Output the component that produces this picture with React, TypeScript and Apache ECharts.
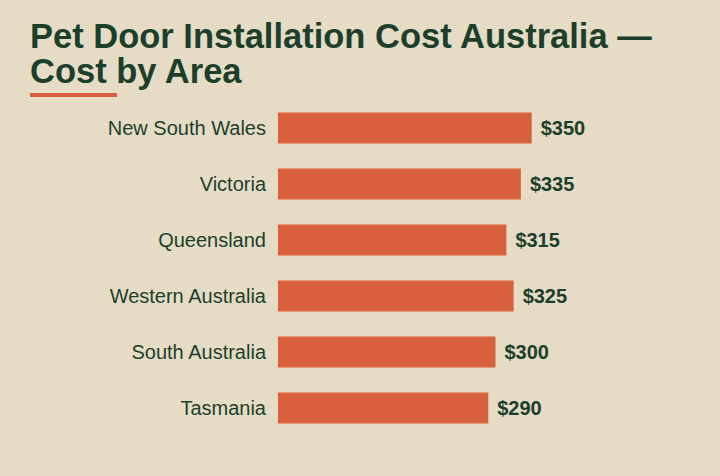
import React, { useEffect, useRef } from 'react';
import * as echarts from 'echarts';

const regions = ['New South Wales', 'Victoria', 'Queensland', 'Western Australia', 'South Australia', 'Tasmania'];
const costs = [350, 335, 315, 325, 300, 290];

const BG = '#e6dcc5';
const INK = '#1c3f2c';
const ORANGE = '#d9603d';
const FONT = 'Liberation Sans, Arial, sans-serif';

export default function App() {
  const chartRef = useRef<HTMLDivElement>(null);

  useEffect(() => {
    if (!chartRef.current) return;
    const chart = echarts.init(chartRef.current, null, { renderer: 'svg' });

    const option: echarts.EChartsOption = {
      animation: false,
      backgroundColor: BG,
      title: {
        text: 'Pet Door Installation Cost Australia —\nCost by Area',
        left: 30,
        top: 19,
        padding: 0,
        textStyle: {
          fontFamily: FONT,
          fontSize: 34.5,
          fontWeight: 'bold',
          color: INK,
          lineHeight: 34.5,
        },
      },
      graphic: [
        {
          type: 'rect',
          left: 30,
          top: 93,
          shape: { width: 87, height: 4 },
          style: { fill: ORANGE },
        },
      ],
      grid: { left: 278, right: 152, top: 100, bottom: 40 },
      xAxis: {
        type: 'value',
        min: 0,
        max: 400,
        show: false,
      },
      yAxis: {
        type: 'category',
        data: regions,
        inverse: true,
        axisLine: { show: false },
        axisTick: { show: false },
        axisLabel: {
          margin: 12,
          fontFamily: FONT,
          fontSize: 20,
          color: INK,
          padding: [0, 0, 5, 0],
        },
      },
      series: [
        {
          type: 'bar',
          data: costs,
          barWidth: 31,
          itemStyle: { color: ORANGE },
          label: {
            show: true,
            position: 'right',
            distance: 9,
            formatter: (p: any) => '$' + p.value,
            fontFamily: FONT,
            fontSize: 20,
            fontWeight: 'bold',
            color: INK,
          },
        },
      ],
    };
    chart.setOption(option);

    const resizeHandler = () => chart.resize();
    window.addEventListener('resize', resizeHandler);
    return () => {
      window.removeEventListener('resize', resizeHandler);
      chart.dispose();
    };
  }, []);

  return (
    <div
      ref={chartRef}
      style={{ position: 'absolute', left: 0, top: 0, width: 720, height: 476 }}
    />
  );
}
